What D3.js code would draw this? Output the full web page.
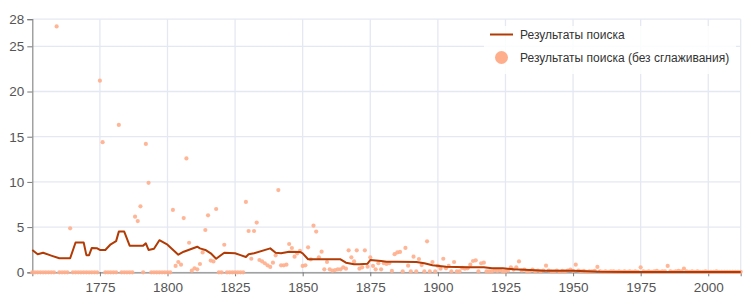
<!DOCTYPE html>
<html>
<head>
<meta charset="utf-8">
<script src="https://cdn.jsdelivr.net/npm/d3@7"></script>
<style>
  body { margin: 0; background: #fff; }
  svg { display: block; }
</style>
</head>
<body>
<svg id="chart" width="751" height="307"></svg>
<script>
var lineYears = [1750, 1752, 1754, 1757, 1760, 1764, 1766, 1769, 1770, 1771, 1772, 1774, 1775, 1777, 1779, 1781,
  1782, 1784, 1786, 1791, 1792, 1793, 1795, 1797, 1800, 1802, 1804, 1806, 1808, 1811, 1812, 1814, 1816, 1818,
  1821, 1825, 1827, 1829, 1830, 1832, 1838, 1840, 1842, 1845, 1849, 1850, 1852, 1855, 1859, 1864, 1866, 1869,
  1871, 1874, 1875, 1879, 1881, 1885, 1892, 1895, 1898, 1903, 1911, 1917, 1920, 1924, 1928, 1934, 1939, 1950,
  1960, 1970, 2012];
var lineValues = [2.47, 2.0, 2.17, 1.85, 1.55, 1.55, 3.3, 3.3, 1.9, 1.9, 2.7, 2.65, 2.47, 2.47, 3.1, 3.45,
  4.5, 4.5, 2.95, 2.95, 3.2, 2.47, 2.6, 3.55, 3.05, 2.5, 1.95, 2.28, 2.5, 2.83, 2.65, 2.47, 2.1, 1.5,
  2.17, 2.1, 1.9, 1.7, 2.0, 2.1, 2.65, 2.17, 2.1, 2.28, 2.25, 2.1, 1.44, 1.44, 1.44, 1.44, 1.06, 0.88,
  0.88, 0.95, 1.36, 1.25, 1.17, 1.17, 1.14, 1.0, 0.77, 0.62, 0.55, 0.55, 0.44, 0.44, 0.33, 0.25, 0.18, 0.18,
  0.05, 0.03, 0.03];

// raw yearly values 1750..2012
var rawFirstYear = 1750;
var rawValues = [
  // 1750-1759
  0, 0, 0, 0, 0, 0, 0, 0, 0, 27.2,
  // 1760-1769
  0, 0, 0, 0, 4.87, 0, 0, 0, 0, 0,
  // 1770-1779
  0, 0, 0, 0, 0, 21.2, 14.4, 0, 0, 0,
  // 1780-1789
  0, 0, 16.3, 0, 0, 0, 0, 0, 6.15, 5.67,
  // 1790-1799
  7.3, 0, 14.2, 9.9, 0, 0, 0, 0, 0, 0,
  // 1800-1809
  0, 0, 6.9, 0.7, 1.14, 0.84, 6.0, 12.6, 3.27, 0.18,
  // 1810-1819
  0.44, 0.33, 0.92, 2.2, 4.68, 6.3, 1.3, 1.2, 7.0, 0,
  // 1820-1829
  0, 3.05, 0, 0, 0, 0, 0, 0, 0, 7.78,
  // 1830-1839
  4.57, 1.5, 4.57, 5.5, 1.36, 1.2, 1.0, 0.77, 0.59, 1.06,
  // 1840-1849
  1.88, 9.1, 0.77, 0.77, 0.84, 3.13, 2.69, 1.73, 2.1, 2.36,
  // 1850-1859
  0.7, 0.77, 2.76, 1.44, 5.16, 4.5, 1.66, 2.28, 0.33, 1.14,
  // 1860-1869
  0.33, 0.18, 0.25, 0.33, 0.33, 0.55, 0.4, 2.43, 1.66, 1.2,
  // 1870-1879
  2.43, 0.4, 0.55, 2.43, 0.62, 1.66, 0.7, 0.33, 1.0, 0.33,
  // 1880-1889
  1.0, 0.92, 1.0, 0.15, 2.0, 2.2, 2.25, 0.1, 2.7, 0.73,
  // 1890-1899
  0.1, 1.73, 0.1, 1.47, 0.8, 0.1, 3.43, 0.1, 1.14, 0.1,
  // 1900-1909
  0.7, 0.4, 1.5, 0.44, 0.7, 0.1, 1.14, 0.1, 0.1, 0.48,
  // 1910-1919
  0.4, 0.44, 0.84, 1.25, 1.33, 0.1, 1.0, 1.06, 0.1, 0.1,
  // 1920-1929
  0.1, 0.2, 0.15, 0.2, 0.1, 0.1, 0.2, 0.55, 0.3, 0.55,
  // 1930-1939
  1.2, 0.2, 0.3, 0.1, 0.15, 0.3, 0.1, 0.2, 0.1, 0.2,
  // 1940-1949
  0.73, 0.2, 0.1, 0.1, 0.2, 0.05, 0.15, 0.1, 0.2, 0.3,
  // 1950-1959
  0.15, 0.84, 0.2, 0.1, 0.15, 0.05, 0.1, 0.1, 0.15, 0.59,
  // 1960-1969
  0.1, 0.05, 0.1, 0.05, 0.1, 0.1, 0.05, 0.1, 0.05, 0.1,
  // 1970-1979
  0.05, 0.1, 0.05, 0.1, 0.05, 0.55, 0.1, 0.05, 0.1, 0.05,
  // 1980-1989
  0.1, 0.15, 0.05, 0.1, 0.1, 0.7, 0.1, 0.05, 0.1, 0.15,
  // 1990-1999
  0.1, 0.4, 0.1, 0.05, 0.1, 0.05, 0.1, 0.05, 0.05, 0.1,
  // 2000-2009
  0.05, 0.05, 0.05, 0.1, 0.05, 0.05, 0.05, 0.05, 0.05, 0.05,
  // 2010-2012
  0.05, 0.05, 0.05
];

var xTicks = [1775, 1800, 1825, 1850, 1875, 1900, 1925, 1950, 1975, 2000];
var yTicks = [0, 5, 10, 15, 20, 25, 28];
var legendLabels = ["Результаты поиска", "Результаты поиска (без сглаживания)"];

var lineColor = "#b23b05";
var dotColor = "#ffae8c";
var gridColor = "#e4e8f2";
var textColor = "#555";

var svg = d3.select("#chart");

var x = d3.scaleLinear().domain([1750, 2012]).range([32.3, 740.7]);
var y = d3.scaleLinear().domain([0, 28]).range([272.3, 19.2]);

// grid
svg.append("g").selectAll("line")
  .data(yTicks)
  .enter().append("line")
    .attr("x1", x.range()[0]).attr("x2", x.range()[1])
    .attr("y1", function(d) { return y(d); }).attr("y2", function(d) { return y(d); })
    .attr("stroke", gridColor).attr("stroke-width", 1.3);

svg.append("g").selectAll("line")
  .data(xTicks.concat([2012]))
  .enter().append("line")
    .attr("x1", function(d) { return x(d); }).attr("x2", function(d) { return x(d); })
    .attr("y1", y(28)).attr("y2", y(0))
    .attr("stroke", gridColor).attr("stroke-width", 1.3);

// axes
var yAxis = svg.append("g")
  .attr("transform", "translate(" + x.range()[0] + ",0)")
  .call(d3.axisLeft(y).tickValues(yTicks).tickSize(5).tickPadding(3));
var xAxis = svg.append("g")
  .attr("transform", "translate(0," + y(0) + ")")
  .call(d3.axisBottom(x).tickValues(xTicks).tickFormat(d3.format("d")).tickSize(4).tickPadding(6));

[yAxis, xAxis].forEach(function(ax) {
  ax.select(".domain").attr("stroke", "#8a8a8a").attr("stroke-width", 1.2);
  ax.selectAll(".tick line").attr("stroke", "#777");
  ax.selectAll("text")
    .attr("fill", textColor)
    .style("font-family", "'Liberation Sans', Arial, sans-serif")
    .style("font-size", "13.5px");
});

// raw points
svg.append("g").selectAll("circle")
  .data(rawValues)
  .enter().append("circle")
    .attr("cx", function(d, i) { return x(rawFirstYear + i); })
    .attr("cy", function(d) { return y(d); })
    .attr("r", 2.1)
    .attr("fill", dotColor)
    .attr("opacity", 0.9);

// smoothed line
var line = d3.line()
  .x(function(d, i) { return x(lineYears[i]); })
  .y(function(d) { return y(d); });

svg.append("path")
  .datum(lineValues)
  .attr("d", line)
  .attr("fill", "none")
  .attr("stroke", lineColor)
  .attr("stroke-width", 2)
  .attr("stroke-linejoin", "round");

// legend
var legend = svg.append("g").attr("transform", "translate(484,24)");
legend.append("rect")
  .attr("x", 0).attr("y", 2).attr("width", 252).attr("height", 48)
  .attr("fill", "#fff").attr("opacity", 0.85);
legend.append("line")
  .attr("x1", 6).attr("x2", 29).attr("y1", 10.5).attr("y2", 10.5)
  .attr("stroke", lineColor).attr("stroke-width", 2);
legend.append("circle")
  .attr("cx", 17.5).attr("cy", 33.5).attr("r", 6.5)
  .attr("fill", dotColor);
legend.selectAll("text")
  .data(legendLabels)
  .enter().append("text")
    .attr("x", 36)
    .attr("y", function(d, i) { return 10.5 + i * 23; })
    .attr("dy", "0.35em")
    .attr("fill", "#333")
    .style("font-family", "'Liberation Sans', Arial, sans-serif")
    .style("font-size", "12px")
    .text(function(d) { return d; });
</script>
</body>
</html>
